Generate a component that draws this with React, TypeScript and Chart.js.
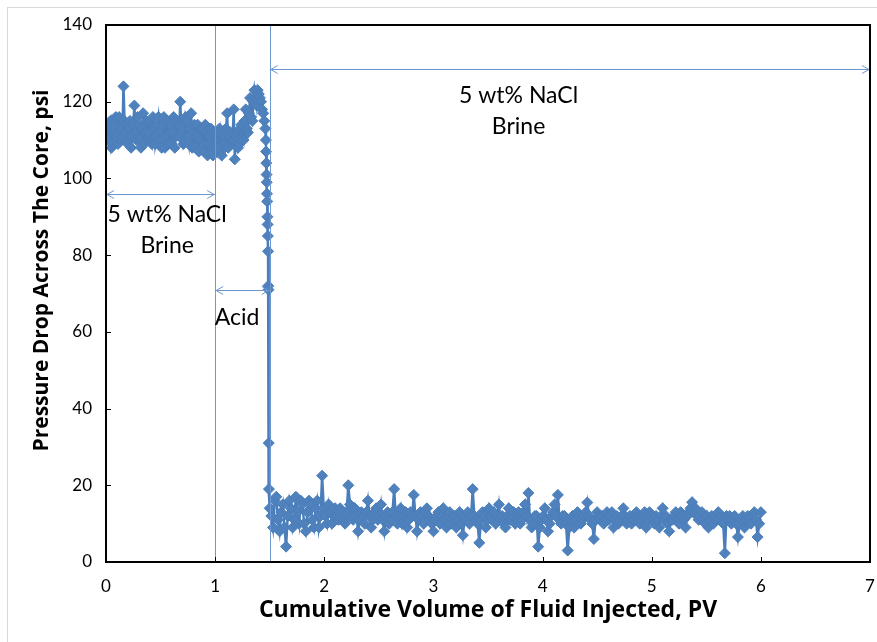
import React, { useEffect, useRef } from "react";
import { Chart, registerables } from "chart.js";
Chart.register(...registerables);

const xTickValues = [0, 1, 2, 3, 4, 5, 6, 7];
const yTickValues = [0, 20, 40, 60, 80, 100, 120, 140];
const xTitle = "Cumulative Volume of Fluid Injected, PV";
const yTitle = "Pressure Drop Across The Core, psi";

// Stage 1: 5 wt% NaCl brine
const pvBrine1 = [
  0, 0.01, 0.02, 0.03, 0.04, 0.05, 0.06, 0.07, 0.08, 0.09,
  0.1, 0.11, 0.12, 0.13, 0.14, 0.15, 0.16, 0.17, 0.18, 0.19,
  0.2, 0.21, 0.22, 0.23, 0.24, 0.25, 0.26, 0.27, 0.28, 0.29,
  0.3, 0.31, 0.32, 0.33, 0.34, 0.35, 0.36, 0.37, 0.38, 0.39,
  0.4, 0.41, 0.42, 0.43, 0.44, 0.45, 0.46, 0.47, 0.48, 0.49,
  0.5, 0.51, 0.52, 0.53, 0.54, 0.55, 0.56, 0.57, 0.58, 0.59,
  0.6, 0.61, 0.62, 0.63, 0.64, 0.65, 0.66, 0.67, 0.68, 0.69,
  0.7, 0.71, 0.72, 0.73, 0.74, 0.75, 0.76, 0.77, 0.78, 0.79,
  0.8, 0.81, 0.82, 0.83, 0.84, 0.85, 0.86, 0.87, 0.88, 0.89,
  0.9, 0.91, 0.92, 0.93, 0.94, 0.95, 0.96, 0.97, 0.98, 0.99,
  1.0,
];
const dpBrine1 = [
  113, 111, 110, 114, 115, 108, 109, 112, 114, 116,
  111, 109, 116, 113, 110, 111, 124, 115, 112, 110,
  109, 113, 115, 108, 111, 114, 119, 112, 110, 116,
  114, 110, 108, 113, 117, 109, 112, 115, 110, 112,
  115, 110, 109, 116, 113, 109, 111, 114, 116, 112,
  110, 108, 114, 116, 108, 111, 115, 109, 112, 114,
  109, 112, 116, 108, 111, 115, 114, 111, 120, 114,
  113, 109, 110, 116, 115, 111, 109, 113, 117, 108,
  112, 114, 108, 111, 114, 107, 110, 113, 113, 109,
  107, 114, 112, 106, 109, 111, 113, 108, 106, 112,
  111,
];

// Stage 2: acid
const pvAcid = [
  1.01, 1.02, 1.03, 1.04, 1.05, 1.06, 1.07, 1.08, 1.09, 1.1,
  1.11, 1.12, 1.13, 1.14, 1.15, 1.16, 1.17, 1.18, 1.19, 1.2,
  1.21, 1.22, 1.23, 1.24, 1.25, 1.26, 1.27, 1.28, 1.29, 1.3,
  1.31, 1.32, 1.33, 1.34, 1.35, 1.36, 1.37, 1.38, 1.39, 1.4,
  1.41, 1.42, 1.43, 1.44, 1.45, 1.46,
];
const dpAcid = [
  110, 108, 112, 113, 107, 106, 110, 111, 109, 113,
  117, 108, 111, 112, 109, 110, 118, 105, 111, 112,
  108, 109, 113, 114, 111, 110, 115, 118, 113, 112,
  117, 121, 116, 115, 120, 123, 121, 119, 123, 122,
  121, 120, 118, 117, 115, 113,
];

// Breakthrough drop
const pvDrop = [
  1.465, 1.467, 1.469, 1.471, 1.473, 1.475, 1.477, 1.479, 1.481, 1.483,
  1.485, 1.487, 1.489, 1.491, 1.493,
];
const dpDrop = [
  110, 107, 104, 101, 99, 96, 94, 90, 88, 85,
  81, 72, 71, 31, 19,
];

// Stage 3: 5 wt% NaCl brine after acid
const pvBrine2 = [
  1.5, 1.515, 1.53, 1.545, 1.56, 1.575, 1.59, 1.605, 1.62, 1.635,
  1.65, 1.665, 1.68, 1.695, 1.71, 1.725, 1.74, 1.755, 1.77, 1.785,
  1.8, 1.815, 1.83, 1.845, 1.86, 1.875, 1.89, 1.905, 1.92, 1.935,
  1.95, 1.965, 1.98, 1.995, 2.01, 2.025, 2.04, 2.055, 2.07, 2.085,
  2.1, 2.13, 2.16, 2.19, 2.22, 2.25, 2.28, 2.31, 2.34, 2.37,
  2.4, 2.43, 2.46, 2.49, 2.52, 2.55, 2.58, 2.61, 2.64, 2.67,
  2.7, 2.73, 2.76, 2.79, 2.82, 2.85, 2.88, 2.91, 2.94, 2.97,
  3.0, 3.03, 3.06, 3.09, 3.12, 3.15, 3.18, 3.21, 3.24, 3.27,
  3.3, 3.33, 3.36, 3.39, 3.42, 3.45, 3.48, 3.51, 3.54, 3.57,
  3.6, 3.63, 3.66, 3.69, 3.72, 3.75, 3.78, 3.81, 3.84, 3.87,
  3.9, 3.93, 3.96, 3.99, 4.02, 4.05, 4.08, 4.11, 4.14, 4.17,
  4.2, 4.23, 4.26, 4.29, 4.32, 4.35, 4.38, 4.41, 4.44, 4.47,
  4.5, 4.53, 4.56, 4.59, 4.62, 4.65, 4.68, 4.71, 4.74, 4.77,
  4.8, 4.83, 4.86, 4.89, 4.92, 4.95, 4.98, 5.01, 5.04, 5.07,
  5.1, 5.13, 5.16, 5.19, 5.22, 5.25, 5.28, 5.31, 5.34, 5.37,
  5.4, 5.43, 5.46, 5.49, 5.52, 5.55, 5.58, 5.61, 5.64, 5.67,
  5.7, 5.73, 5.76, 5.79, 5.82, 5.85, 5.88, 5.91, 5.94, 5.97,
  6.0,
];
const dpBrine2 = [
  14, 12, 9, 16, 17, 11, 8, 13, 15, 9,
  4, 12, 16, 14, 9, 11, 17, 13, 10, 16,
  15, 10, 8, 13, 16, 15, 11, 9, 14, 16,
  9, 12, 22.5, 14, 12, 10, 15, 13, 10, 12,
  14, 11, 13, 10, 20, 12, 14, 8, 13, 10,
  16, 9, 13, 11, 15, 8, 13, 11, 19, 10,
  14, 12, 9, 13, 17.5, 8, 13, 10, 14, 11,
  8, 12, 10, 14, 9, 13, 11, 9, 13, 7,
  12, 10, 19, 11, 5, 13, 9, 14, 11, 10,
  15, 12, 9, 14, 12, 10, 13, 11, 15, 18,
  9, 12, 4, 11, 14, 8, 12, 15, 17.5, 10,
  12, 3, 11, 9, 13, 10, 12, 15.5, 11, 6,
  13, 11, 10, 13, 12, 9, 12, 11, 14, 10,
  12, 11, 13, 10, 12, 9, 13, 11, 12, 9,
  14, 12, 8, 11, 13, 10, 12, 9, 13, 15.6,
  14, 11, 13, 10, 9, 12, 11, 13, 12, 2.3,
  11, 10, 12, 6.5, 11, 9, 12, 10, 13, 6.5,
  13,
];
// Additional readings logged between the ones above (stage 3)
const pvBrine2Mid = [
  2.115, 2.145, 2.175, 2.205, 2.235, 2.265, 2.295, 2.325, 2.355, 2.385,
  2.415, 2.445, 2.475, 2.505, 2.535, 2.565, 2.595, 2.625, 2.655, 2.685,
  2.715, 2.745, 2.775, 2.805, 2.835, 2.865, 2.895, 2.925, 2.955, 2.985,
  3.015, 3.045, 3.075, 3.105, 3.135, 3.165, 3.195, 3.225, 3.255, 3.285,
  3.315, 3.345, 3.375, 3.405, 3.435, 3.465, 3.495, 3.525, 3.555, 3.585,
  3.615, 3.645, 3.675, 3.705, 3.735, 3.765, 3.795, 3.825, 3.855, 3.885,
  3.915, 3.945, 3.975, 4.005, 4.035, 4.065, 4.095, 4.125, 4.155, 4.185,
  4.215, 4.245, 4.275, 4.305, 4.335, 4.365, 4.395, 4.425, 4.455, 4.485,
  4.515, 4.545, 4.575, 4.605, 4.635, 4.665, 4.695, 4.725, 4.755, 4.785,
  4.815, 4.845, 4.875, 4.905, 4.935, 4.965, 4.995, 5.025, 5.055, 5.085,
  5.115, 5.145, 5.175, 5.205, 5.235, 5.265, 5.295, 5.325, 5.355, 5.385,
  5.415, 5.445, 5.475, 5.505, 5.535, 5.565, 5.595, 5.625, 5.655, 5.685,
  5.715, 5.745, 5.775, 5.805, 5.835, 5.865, 5.895, 5.925, 5.955, 5.985,
];
const dpBrine2Mid = [
  12, 14, 11, 13, 15, 11, 12, 11, 12, 13,
  12, 11, 14, 12, 11, 12, 10, 13, 12, 12,
  10, 13, 11, 12, 12, 11, 12, 13, 12, 10,
  11, 13, 12, 11, 12, 10, 12, 11, 10, 11,
  13, 12, 12, 10, 11, 12, 11, 12, 13, 12,
  11, 10, 12, 11, 13, 12, 10, 13, 12, 11,
  10, 12, 9, 12, 11, 10, 13, 12, 11, 12,
  10, 9, 12, 11, 12, 11, 13, 12, 10, 11,
  12, 12, 11, 11, 13, 11, 10, 12, 12, 11,
  10, 12, 11, 11, 13, 11, 12, 10, 11, 12,
  11, 10, 11, 12, 11, 13, 11, 12, 14, 13,
  12, 12, 11, 12, 11, 10, 12, 11, 10, 12,
  12, 11, 10, 10, 12, 11, 11, 12, 11, 10,
];

// Stage boundaries and annotation arrows (in data units)
const stageBoundaries = [1, 1.5];
const arrowStarts = [0, 1, 1.5];
const arrowEnds = [1, 1.5, 7];
const arrowLevels = [96, 71, 128.5];
const labelLines = [["5 wt% NaCl", "Brine"], ["Acid"], ["5 wt% NaCl", "Brine"]];
const labelX = [0.56, 1.2, 3.78];
const labelY = [90.5, 63.6, 121.5];
const labelLineGap = 7.9;
const yTitleCenter = 76; // value at which the y title is centred

const FONT = "Lato, 'Open Sans', sans-serif";
const TITLE_FONT = "'Open Sans', Lato, sans-serif";
const SERIES = "#4A7EBB";
const MARK = "#4F81BD";
const NOTE = "#6E98CF";

function build(pv: number[], dp: number[]) {
  return pv.map((x, i) => ({ x, y: dp[i] }));
}

const overlay = {
  id: "overlay",
  beforeDraw(chart: any) {
    const { ctx, width, height } = chart;
    ctx.save();
    ctx.fillStyle = "#ffffff";
    ctx.fillRect(0, 0, width, height);
    ctx.strokeStyle = "#d9d9d9";
    ctx.lineWidth = 1;
    ctx.strokeRect(7.5, 7.5, width - 7, height - 7);
    ctx.restore();
  },
  afterDatasetsDraw(chart: any) {
    const { ctx, chartArea } = chart;
    const xs = chart.scales.x;
    const ys = chart.scales.y;
    ctx.save();
    ctx.strokeStyle = NOTE;
    ctx.lineWidth = 1;
    stageBoundaries.forEach((b) => {
      const px = Math.round(xs.getPixelForValue(b)) + 0.5;
      ctx.beginPath();
      ctx.moveTo(px, chartArea.top);
      ctx.lineTo(px, chartArea.bottom);
      ctx.stroke();
    });
    arrowStarts.forEach((s, i) => {
      const x1 = xs.getPixelForValue(s);
      const x2 = xs.getPixelForValue(arrowEnds[i]);
      const py = Math.round(ys.getPixelForValue(arrowLevels[i])) + 0.5;
      ctx.beginPath();
      ctx.moveTo(x1, py);
      ctx.lineTo(x2, py);
      ctx.moveTo(x1 + 8, py - 4);
      ctx.lineTo(x1 + 1, py);
      ctx.lineTo(x1 + 8, py + 4);
      ctx.moveTo(x2 - 8, py - 4);
      ctx.lineTo(x2 - 1, py);
      ctx.lineTo(x2 - 8, py + 4);
      ctx.stroke();
    });
    ctx.fillStyle = "#000";
    ctx.font = `23px ${FONT}`;
    ctx.textAlign = "center";
    ctx.textBaseline = "middle";
    labelLines.forEach((lines, i) => {
      lines.forEach((t, j) => {
        ctx.fillText(
          t,
          xs.getPixelForValue(labelX[i]),
          ys.getPixelForValue(labelY[i] - j * labelLineGap)
        );
      });
    });
    ctx.restore();
  },
  afterDraw(chart: any) {
    const { ctx, chartArea } = chart;
    const xs = chart.scales.x;
    const ys = chart.scales.y;
    ctx.save();
    ctx.strokeStyle = "#000";
    ctx.lineWidth = 1;
    xTickValues.forEach((v) => {
      const px = Math.round(xs.getPixelForValue(v)) + 0.5;
      ctx.beginPath();
      ctx.moveTo(px, chartArea.bottom);
      ctx.lineTo(px, chartArea.bottom - 5);
      ctx.stroke();
    });
    yTickValues.forEach((v) => {
      const py = Math.round(ys.getPixelForValue(v)) + 0.5;
      ctx.beginPath();
      ctx.moveTo(chartArea.left, py);
      ctx.lineTo(chartArea.left + 5, py);
      ctx.stroke();
    });
    ctx.lineWidth = 2;
    ctx.strokeRect(
      chartArea.left,
      chartArea.top,
      chartArea.right - chartArea.left,
      chartArea.bottom - chartArea.top
    );
    // y axis title
    ctx.translate(42, ys.getPixelForValue(yTitleCenter));
    ctx.rotate(-Math.PI / 2);
    ctx.fillStyle = "#000";
    ctx.font = `bold 21px ${TITLE_FONT}`;
    ctx.textAlign = "center";
    ctx.textBaseline = "middle";
    ctx.fillText(yTitle, 0, 0);
    ctx.restore();
  },
};

export default function App() {
  const ref = useRef<HTMLCanvasElement | null>(null);
  useEffect(() => {
    if (!ref.current) return;
    const stage3 = [
      ...build(pvBrine2, dpBrine2),
      ...build(pvBrine2Mid, dpBrine2Mid),
    ].sort((a, b) => a.x - b.x);
    const data = [
      ...build(pvBrine1, dpBrine1),
      ...build(pvAcid, dpAcid),
      ...build(pvDrop, dpDrop),
      ...stage3,
    ];
    const chart = new Chart(ref.current, {
      type: "line",
      data: {
        datasets: [
          {
            data,
            borderColor: SERIES,
            borderWidth: 2.5,
            backgroundColor: MARK,
            pointStyle: "rectRot",
            pointRadius: 5.5,
            pointBorderWidth: 1,
            pointBorderColor: SERIES,
            pointBackgroundColor: MARK,
            tension: 0,
          },
        ],
      },
      options: {
        animation: false,
        responsive: false,
        parsing: false as any,
        layout: { padding: { left: 0, top: 25, right: 7, bottom: 0 } },
        plugins: { legend: { display: false }, tooltip: { enabled: false } },
        scales: {
          x: {
            type: "linear",
            min: 0,
            max: 7,
            afterBuildTicks: (s: any) => {
              s.ticks = xTickValues.map((v) => ({ value: v }));
            },
            afterFit: (s: any) => {
              s.height = 80;
              s.paddingLeft = 0;
              s.paddingRight = 0;
            },
            grid: { display: false, drawTicks: false },
            border: { display: false },
            ticks: {
              padding: 14,
              color: "#000",
              maxRotation: 0,
              font: { family: FONT, size: 17 },
            },
            title: {
              display: true,
              text: xTitle,
              color: "#000",
              font: { family: TITLE_FONT, size: 23, weight: "bold" },
              padding: { top: 0, bottom: 18 },
            },
          },
          y: {
            type: "linear",
            min: 0,
            max: 140,
            afterBuildTicks: (s: any) => {
              s.ticks = yTickValues.map((v) => ({ value: v }));
            },
            afterFit: (s: any) => {
              s.width = 106;
              s.paddingTop = 0;
              s.paddingBottom = 0;
            },
            grid: { display: false, drawTicks: false },
            border: { display: false },
            ticks: {
              padding: 14,
              color: "#000",
              font: { family: FONT, size: 17 },
            },
            title: { display: false },
          },
        },
      },
      plugins: [overlay],
    });
    return () => chart.destroy();
  }, []);
  return (
    <div
      style={{
        position: "absolute",
        left: 0,
        top: 0,
        width: 877,
        height: 642,
        background: "#fff",
      }}
    >
      <canvas ref={ref} width={877} height={642} style={{ width: 877, height: 642, display: "block" }} />
    </div>
  );
}
